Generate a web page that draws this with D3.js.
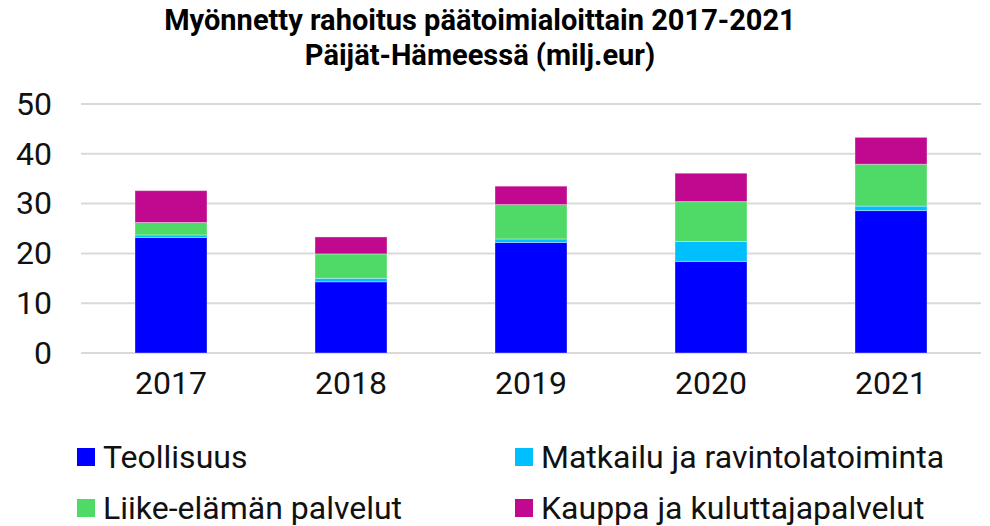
<!DOCTYPE html>
<html>
<head>
<meta charset="utf-8">
<script src="https://cdn.jsdelivr.net/npm/d3@7"></script>
<style>
  body { margin: 0; background: #fff; }
  text { font-family: Roboto, "Liberation Sans", sans-serif; }
</style>
</head>
<body>
<div id="stacked-chart"></div>
<script>
const years = ["2017", "2018", "2019", "2020", "2021"];
const seriesNames = ["Teollisuus", "Matkailu ja ravintolatoiminta", "Liike-elämän palvelut", "Kauppa ja kuluttajapalvelut"];
const teollisuus = [23.2, 14.3, 22.2, 18.4, 28.6];
const matkailu = [0.5, 0.7, 0.7, 4.0, 0.9];
const liike = [2.5, 4.9, 6.9, 8.0, 8.4];
const kauppa = [6.4, 3.4, 3.7, 5.7, 5.4];
const yTicks = [0, 10, 20, 30, 40, 50];
const colors = ["#0000ff", "#00bfff", "#4fd967", "#c0098f"];

// rows for d3.stack
let data = years.map((y, i) => ({
    year: y,
    "Teollisuus": teollisuus[i],
    "Matkailu ja ravintolatoiminta": matkailu[i],
    "Liike-elämän palvelut": liike[i],
    "Kauppa ja kuluttajapalvelut": kauppa[i]
}));

const height = 526,
      width = 990,
      margin = ({ top: 104, right: 9, bottom: 173, left: 81 });

let svg = d3.select("#stacked-chart")
    .append("svg")
    .attr("width", width)
    .attr("height", height);

let x = d3.scaleBand()
    .domain(years)
    .range([margin.left, width - margin.right])
    .paddingInner(0.6)
    .paddingOuter(0.3);

let y = d3.scaleLinear()
    .domain([0, 50])
    .range([height - margin.bottom, margin.top]);

let color = d3.scaleOrdinal()
    .domain(seriesNames)
    .range(colors);

// gridlines
svg.append("g")
    .selectAll("line")
    .data(yTicks)
    .join("line")
    .attr("x1", margin.left)
    .attr("x2", width - margin.right)
    .attr("y1", d => y(d))
    .attr("y2", d => y(d))
    .attr("stroke", "#d9d9d9")
    .attr("stroke-width", 2);

let yAxis = svg.append("g")
    .attr("transform", `translate(${margin.left - 29},0)`)
    .call(d3.axisLeft(y).tickValues(yTicks).tickSize(0).tickPadding(0));
yAxis.select(".domain").remove();
yAxis.selectAll("text")
    .attr("font-size", 32)
    .attr("font-family", "Roboto")
    .attr("fill", "#111");

let xAxis = svg.append("g")
    .attr("transform", `translate(0,${height - margin.bottom})`)
    .call(d3.axisBottom(x).tickSize(0).tickPadding(18));
xAxis.select(".domain").remove();
xAxis.selectAll("text")
    .attr("font-size", 32)
    .attr("font-family", "Roboto")
    .attr("fill", "#111");

let stacked = d3.stack().keys(seriesNames)(data);

let layer = svg.selectAll(".layer")
    .data(stacked)
    .join("g")
    .attr("class", "layer")
    .attr("fill", d => color(d.key));

layer.selectAll("rect")
    .data(d => d)
    .join("rect")
    .attr("x", d => x(d.data.year))
    .attr("width", x.bandwidth())
    .attr("y", d => y(d[1]))
    .attr("height", d => y(d[0]) - y(d[1]))
    .attr("stroke", "rgba(255,255,255,0.35)")
    .attr("stroke-width", 1);

// title
let title = svg.append("text")
    .attr("text-anchor", "middle")
    .attr("font-weight", "bold")
    .attr("font-size", 29)
    .attr("fill", "#000");
title.append("tspan").attr("x", 480).attr("y", 30).text("Myönnetty rahoitus päätoimialoittain 2017-2021");
title.append("tspan").attr("x", 480).attr("y", 65).text("Päijät-Hämeessä (milj.eur)");

// legend: two columns, two rows
const legendX = [77, 515],
      legendY = [457, 508];

let legend = svg.selectAll(".legend")
    .data(seriesNames)
    .join("g")
    .attr("class", "legend")
    .attr("transform", (d, i) => `translate(${legendX[i % 2]},${legendY[Math.floor(i / 2)]})`);

legend.append("rect")
    .attr("x", 0)
    .attr("y", -9)
    .attr("width", 18)
    .attr("height", 18)
    .attr("fill", d => color(d));

legend.append("text")
    .attr("x", 26)
    .attr("y", 0)
    .attr("dominant-baseline", "central")
    .attr("font-size", 32)
    .attr("fill", "#111")
    .text(d => d);
</script>
</body>
</html>
